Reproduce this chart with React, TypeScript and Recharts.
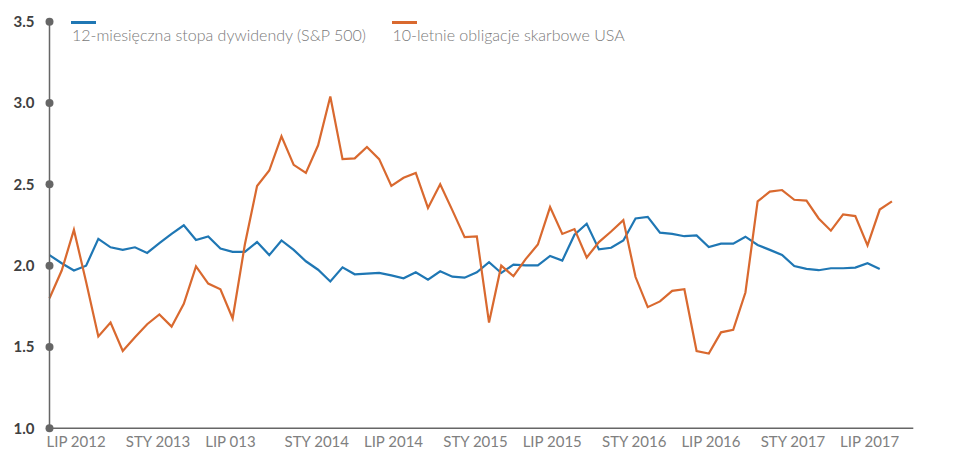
import React from 'react';
import { LineChart, Line, XAxis, YAxis, Legend } from 'recharts';

// Monthly observations (index 0 = first month shown)
const dividendYield = [
  2.065, 2.015, 1.97, 2.0, 2.165, 2.113, 2.097, 2.113, 2.078, 2.138,
  2.195, 2.248, 2.158, 2.179, 2.105, 2.085, 2.085, 2.145, 2.065, 2.155,
  2.097, 2.027, 1.975, 1.903, 1.99, 1.947, 1.951, 1.955, 1.94, 1.922,
  1.959, 1.914, 1.965, 1.932, 1.926, 1.959, 2.021, 1.955, 2.006, 2.002,
  2.002, 2.06, 2.031, 2.19, 2.258, 2.1, 2.11, 2.155, 2.29, 2.3,
  2.203, 2.195, 2.181, 2.186, 2.115, 2.135, 2.135, 2.178, 2.127, 2.097,
  2.066, 1.998, 1.98, 1.972, 1.984, 1.984, 1.988, 2.015, 1.98,
];

const treasury10y = [
  1.8, 1.97, 2.22, 1.9, 1.565, 1.65, 1.475, 1.56, 1.64, 1.7,
  1.625, 1.765, 1.995, 1.89, 1.855, 1.675, 2.13, 2.49, 2.585, 2.795,
  2.62, 2.57, 2.74, 3.04, 2.655, 2.66, 2.73, 2.655, 2.49, 2.54,
  2.57, 2.355, 2.5, 2.34, 2.175, 2.18, 1.65, 2.0, 1.935, 2.04,
  2.13, 2.36, 2.195, 2.225, 2.05, 2.145, 2.21, 2.28, 1.93, 1.745,
  1.78, 1.845, 1.855, 1.475, 1.46, 1.59, 1.605, 1.835, 2.395, 2.455,
  2.465, 2.405, 2.4, 2.29, 2.215, 2.315, 2.305, 2.125, 2.345, 2.395,
];

const xTickPositions = [0, 6.5, 13, 19.5, 26, 32.5, 39, 45.5, 52, 58.5, 65];
const xTickLabels = [
  'LIP 2012', 'STY 2013', 'LIP 013', 'STY 2014', 'LIP 2014', 'STY 2015',
  'LIP 2015', 'STY 2016', 'LIP 2016', 'STY 2017', 'LIP 2017',
];
const yTicks = [1.0, 1.5, 2.0, 2.5, 3.0, 3.5];

const seriesNames = ['12-miesięczna stopa dywidendy (S&P 500)', '10-letnie obligacje skarbowe USA'];
const BLUE = '#1f77b4';
const ORANGE = '#d9692f';

const data = treasury10y.map((t, i) => ({
  i,
  dy: i < dividendYield.length ? dividendYield[i] : null,
  t,
}));

const YTick = (props: any) => {
  const { x, y, payload } = props;
  return (
    <g>
      <circle cx={x} cy={y} r={4} fill="#666666" />
      <text
        x={x - 15}
        y={y}
        dy="0.36em"
        textAnchor="end"
        fontFamily="Lato"
        fontWeight={700}
        fontSize={15}
        fill="#404040"
      >
        {Number(payload.value).toFixed(1)}
      </text>
    </g>
  );
};

const XTick = (props: any) => {
  const { x, y, payload, index } = props;
  const idx = xTickPositions.indexOf(payload.value);
  return (
    <text
      x={x - 3}
      y={y}
      dy="0.71em"
      textAnchor="start"
      fontFamily="Lato"
      fontSize={15}
      fill="#808080"
    >
      {xTickLabels[idx >= 0 ? idx : index]}
    </text>
  );
};

const LegendContent = () => {
  const items = [
    { name: seriesNames[0], color: BLUE, left: 63 },
    { name: seriesNames[1], color: ORANGE, left: 383.5 },
  ];
  return (
    <div style={{ position: 'relative', width: 943, height: 40 }}>
      {items.map((it) => (
        <div key={it.name}>
          <div
            style={{
              position: 'absolute',
              left: it.left,
              top: 13,
              width: 25,
              height: 2.5,
              background: it.color,
            }}
          />
          <span
            style={{
              position: 'absolute',
              left: it.left + 1,
              top: 17.2,
              fontFamily: 'Lato',
              fontWeight: 300,
              fontSize: 16,
              lineHeight: '19px',
              color: '#7a7a7a',
              whiteSpace: 'nowrap',
            }}
          >
            {it.name}
          </span>
        </div>
      ))}
    </div>
  );
};

export default function App() {
  return (
    <LineChart
      width={943}
      height={450}
      data={data}
      margin={{ top: 13.7, right: 37.7, bottom: 4.7, left: 0 }}
    >
      <XAxis
        dataKey="i"
        type="number"
        domain={[0, 70.75]}
        ticks={xTickPositions}
        interval={0}
        height={25}
        axisLine={{ stroke: '#666666', strokeWidth: 1.5 }}
        tickLine={false}
        tickSize={0}
        tickMargin={8}
        tick={<XTick />}
      />
      <YAxis
        type="number"
        domain={[1, 3.5]}
        ticks={yTicks}
        interval={0}
        width={41.5}
        axisLine={{ stroke: '#666666', strokeWidth: 1.5 }}
        tickLine={false}
        tickSize={0}
        tickMargin={0}
        tick={<YTick />}
      />
      <Legend
        layout="horizontal"
        verticalAlign="middle"
        align="center"
        wrapperStyle={{ top: 0, left: 0, width: 943, height: 40 }}
        content={<LegendContent />}
      />
      <Line
        type="linear"
        dataKey="dy"
        name={seriesNames[0]}
        stroke={BLUE}
        strokeWidth={2.2}
        dot={false}
        activeDot={false}
        isAnimationActive={false}
      />
      <Line
        type="linear"
        dataKey="t"
        name={seriesNames[1]}
        stroke={ORANGE}
        strokeWidth={2.2}
        dot={false}
        activeDot={false}
        isAnimationActive={false}
      />
    </LineChart>
  );
}
